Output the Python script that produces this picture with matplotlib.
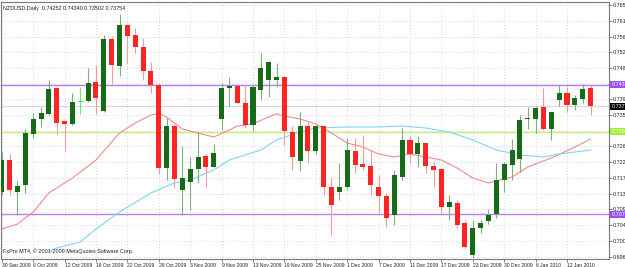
import numpy as np
import matplotlib.pyplot as plt
from matplotlib import transforms

# NZDUSD daily bars, 30 Sep 2009 .. 15 Jan 2010 (prices)
opens = [0.71383, 0.72267, 0.71383, 0.71577, 0.72985, 0.73400, 0.73538, 0.74256, 0.73344, 0.73262,
         0.73900, 0.73897, 0.74422, 0.73621, 0.75609, 0.74864, 0.75996, 0.75720, 0.75388, 0.74725,
         0.74339, 0.72046, 0.73206, 0.71439, 0.71660, 0.72019, 0.72378, 0.72074, 0.73400, 0.74256,
         0.74311, 0.73842, 0.73234, 0.74201, 0.74477, 0.74477, 0.74560, 0.73041, 0.72240, 0.73206,
         0.72516, 0.73206, 0.71521, 0.71383, 0.71521, 0.72516, 0.72157, 0.72102, 0.71521, 0.71273,
         0.70748, 0.71798, 0.72820, 0.72433, 0.72737, 0.72102, 0.72019, 0.70969, 0.71080, 0.70527,
         0.69643, 0.70389, 0.70582, 0.70776, 0.71715, 0.72129, 0.72295, 0.73400, 0.73400, 0.73731,
         0.73123, 0.73924, 0.74118, 0.73786, 0.73952, 0.74252]
highs = [0.72488, 0.72433, 0.71715, 0.73123, 0.73565, 0.73731, 0.74477, 0.74283, 0.73360, 0.74118,
         0.74283, 0.74808, 0.74891, 0.75720, 0.75692, 0.76300, 0.76010, 0.75913, 0.75637, 0.74974,
         0.74394, 0.73427, 0.73220, 0.72654, 0.72350, 0.73041, 0.72433, 0.72709, 0.74394, 0.74560,
         0.74320, 0.74339, 0.74339, 0.75223, 0.74990, 0.74946, 0.74587, 0.73206, 0.73593, 0.73317,
         0.73234, 0.73234, 0.71770, 0.72184, 0.72875, 0.72875, 0.72958, 0.72543, 0.71853, 0.71356,
         0.71991, 0.73151, 0.72958, 0.72930, 0.72750, 0.72212, 0.72046, 0.71300, 0.71162, 0.70610,
         0.70610, 0.70610, 0.70914, 0.72184, 0.72212, 0.72847, 0.73510, 0.73731, 0.73759, 0.74256,
         0.73600, 0.74339, 0.74283, 0.74062, 0.74366, 0.74340]
lows = [0.71300, 0.71300, 0.70748, 0.71356, 0.72875, 0.73179, 0.73520, 0.72985, 0.72516, 0.73240,
        0.73538, 0.73880, 0.73538, 0.73600, 0.74366, 0.74587, 0.74946, 0.75223, 0.74477, 0.74118,
        0.71881, 0.71715, 0.71521, 0.70748, 0.70886, 0.71632, 0.71521, 0.72060, 0.73096, 0.73731,
        0.73830, 0.73151, 0.73068, 0.73924, 0.74007, 0.74283, 0.72682, 0.71991, 0.71963, 0.72184,
        0.72433, 0.71300, 0.70196, 0.71162, 0.71439, 0.71908, 0.71991, 0.71300, 0.70803, 0.70417,
        0.70472, 0.71715, 0.72184, 0.72074, 0.71908, 0.71521, 0.70803, 0.70610, 0.70389, 0.69837,
        0.69570, 0.70251, 0.70500, 0.70665, 0.71383, 0.71715, 0.71936, 0.73123, 0.73013, 0.73100,
        0.72820, 0.73759, 0.73593, 0.73648, 0.73842, 0.73502]
closes = [0.72267, 0.71439, 0.71549, 0.73013, 0.73400, 0.73565, 0.74228, 0.73289, 0.73262, 0.73869,
          0.73900, 0.74394, 0.73980, 0.75609, 0.74891, 0.75996, 0.75692, 0.75388, 0.74725, 0.74339,
          0.72046, 0.73206, 0.71742, 0.71770, 0.72019, 0.72350, 0.72074, 0.72461, 0.74256, 0.74311,
          0.73842, 0.73234, 0.74283, 0.74808, 0.74974, 0.74560, 0.73068, 0.72350, 0.73206, 0.72516,
          0.73206, 0.71521, 0.71024, 0.71521, 0.72543, 0.72129, 0.72074, 0.71577, 0.71273, 0.70665,
          0.71853, 0.72820, 0.72433, 0.72737, 0.72102, 0.71991, 0.70969, 0.71107, 0.70472, 0.69864,
          0.70389, 0.70527, 0.70748, 0.71715, 0.72157, 0.72543, 0.73372, 0.73427, 0.73703, 0.73123,
          0.73593, 0.74118, 0.73786, 0.73980, 0.74228, 0.73754]

# moving averages (bar index, price)
ma_fast_idx = [0, 2, 4, 6, 9, 12, 15, 17, 19, 20, 21, 23, 25, 27, 29, 30, 32, 34, 35, 36,
               38, 40, 42, 44, 46, 48, 50, 52, 54, 56, 58, 60, 62, 63, 65, 67, 70, 73, 75]
ma_fast = [0.70361, 0.70500, 0.70831, 0.71356, 0.71770, 0.72267, 0.73013, 0.73289, 0.73510, 0.73552,
           0.73455, 0.73123, 0.73013, 0.72902, 0.73096, 0.73206, 0.73262, 0.73455, 0.73538, 0.73483,
           0.73400, 0.73262, 0.73013, 0.72737, 0.72626, 0.72433, 0.72350, 0.72433, 0.72350, 0.72267,
           0.72046, 0.71770, 0.71632, 0.71687, 0.71798, 0.72074, 0.72322, 0.72626, 0.72847]
ma_slow_idx = [6, 7, 10, 12, 15, 19, 22, 24, 27, 29, 33, 35, 38, 40, 44, 48, 51, 54, 57, 60,
               63, 66, 69, 71, 75]
ma_slow = [0.69754, 0.69837, 0.70002, 0.70361, 0.70831, 0.71356, 0.71632, 0.71715, 0.71991, 0.72267,
           0.72543, 0.72820, 0.73041, 0.73151, 0.73179, 0.73179, 0.73206, 0.73151, 0.73041, 0.72820,
           0.72543, 0.72405, 0.72350, 0.72433, 0.72543]

tick_idx = list(range(0, 76, 4))
tick_dates = ['30 Sep 2009', '6 Oct 2009', '12 Oct 2009', '16 Oct 2009', '22 Oct 2009',
              '28 Oct 2009', '3 Nov 2009', '9 Nov 2009', '13 Nov 2009', '19 Nov 2009',
              '25 Nov 2009', '1 Dec 2009', '7 Dec 2009', '11 Dec 2009', '17 Dec 2009',
              '23 Dec 2009', '30 Dec 2009', '6 Jan 2010', '12 Jan 2010']
price_ticks = [0.76540, 0.76110, 0.75670, 0.75240, 0.74800, 0.74370, 0.73940, 0.73500, 0.73070,
               0.72640, 0.72200, 0.71770, 0.71330, 0.70900, 0.70470, 0.70030, 0.69600]
# these two scale labels sit under the level boxes and are not seen
hidden_ticks = [0.74370, 0.73070]

level_top = 0.74352
level_bottom = 0.70770
level_green = 0.73050

plt.rcParams['font.family'] = ['Liberation Sans', 'DejaVu Sans']
fs = 3.9
fs_dates = 3.6

fig = plt.figure(figsize=(6.25, 2.67), dpi=100)
ax = fig.add_axes([0.0016, 0.030, 0.9728, 0.9625])

o = np.array(opens); h = np.array(highs); l = np.array(lows); c = np.array(closes)
x = np.arange(len(o))
up = c > o
dn = c < o
dj = c == o

# grid
for t in price_ticks:
    ax.axhline(t, color='#c8c8c8', lw=0.6, ls=(0, (1, 2.5)), zorder=0)
for t in tick_idx:
    ax.axvline(t, color='#c8c8c8', lw=0.6, ls=(0, (1, 2.5)), zorder=0)

# horizontal levels
ax.axhline(level_top, color='#b77ff0', lw=1.0, zorder=1)
ax.axhline(level_bottom, color='#b77ff0', lw=1.0, zorder=1)
ax.axhline(level_green, color='#c4f07a', lw=1.0, zorder=1)
ax.axhline(closes[-1], color='#d8d8d8', lw=0.8, zorder=1)

# moving averages
ax.plot(ma_fast_idx, ma_fast, color='#f08a8a', lw=0.8, zorder=2)
ax.plot(ma_slow_idx, ma_slow, color='#7fd4f2', lw=0.8, zorder=2)

# wicks
ax.vlines(x[up], l[up], h[up], color='#7fae7f', lw=0.8, zorder=3)
ax.vlines(x[dn], l[dn], h[dn], color='#f59a9a', lw=0.8, zorder=3)
ax.vlines(x[dj], l[dj], h[dj], color='#66ee66', lw=0.8, zorder=3)

# bodies
w = 0.64
ax.bar(x[up], c[up] - o[up], bottom=o[up], width=w, color='#176b17', zorder=4)
ax.bar(x[dn], o[dn] - c[dn], bottom=c[dn], width=w, color='#ff2424', zorder=4)
ax.hlines(o[dj], x[dj] - w / 2, x[dj] + w / 2, color='#44dd44', lw=0.8, zorder=4)

ax.set_xlim(-0.1, 77.35)
ax.set_ylim(0.69533, 0.76631)

ax.yaxis.tick_right()
ax.set_yticks(price_ticks)
ax.set_yticklabels(['' if t in hidden_ticks else '%.5f' % t for t in price_ticks],
                   fontsize=fs, color='#202020')
ax.set_xticks(tick_idx)
ax.set_xticklabels(tick_dates, fontsize=fs_dates, color='#202020', ha='left')
off = transforms.ScaledTranslation(-2 / 100, 0, fig.dpi_scale_trans)
for lab in ax.get_xticklabels():
    lab.set_transform(lab.get_transform() + off)
ax.tick_params(axis='both', length=2, width=0.6, color='#707070', pad=1)

for s in ax.spines.values():
    s.set_color('#7a7a7a')
    s.set_linewidth(0.8)

# price boxes on the scale
trans = transforms.blended_transform_factory(ax.transAxes, ax.transData)
def price_box(val, bg, fg):
    ax.text(1.004, val, '%.5f' % val, transform=trans, fontsize=fs, color=fg,
            va='center', ha='left', clip_on=False, zorder=10,
            bbox=dict(boxstyle='square,pad=0.2', fc=bg, ec='none'))

price_box(level_top, '#9b4dff', 'white')
price_box(level_bottom, '#9b4dff', 'white')
price_box(level_green, '#9cf03a', 'white')
price_box(closes[-1], 'black', 'white')

ax.text(0.003, 0.985, 'NZDUSD,Daily  %.5f %.5f %.5f %.5f' % (opens[-1], highs[-1], lows[-1], closes[-1]),
        transform=ax.transAxes, fontsize=fs, color='#202020', va='top', ha='left')
ax.text(0.003, 0.02, 'FxPro MT4, \u00a9 2001-2009 MetaQuotes Software Corp.',
        transform=ax.transAxes, fontsize=fs, color='#202020', va='bottom', ha='left')

fig.savefig('out.png', dpi=100)
